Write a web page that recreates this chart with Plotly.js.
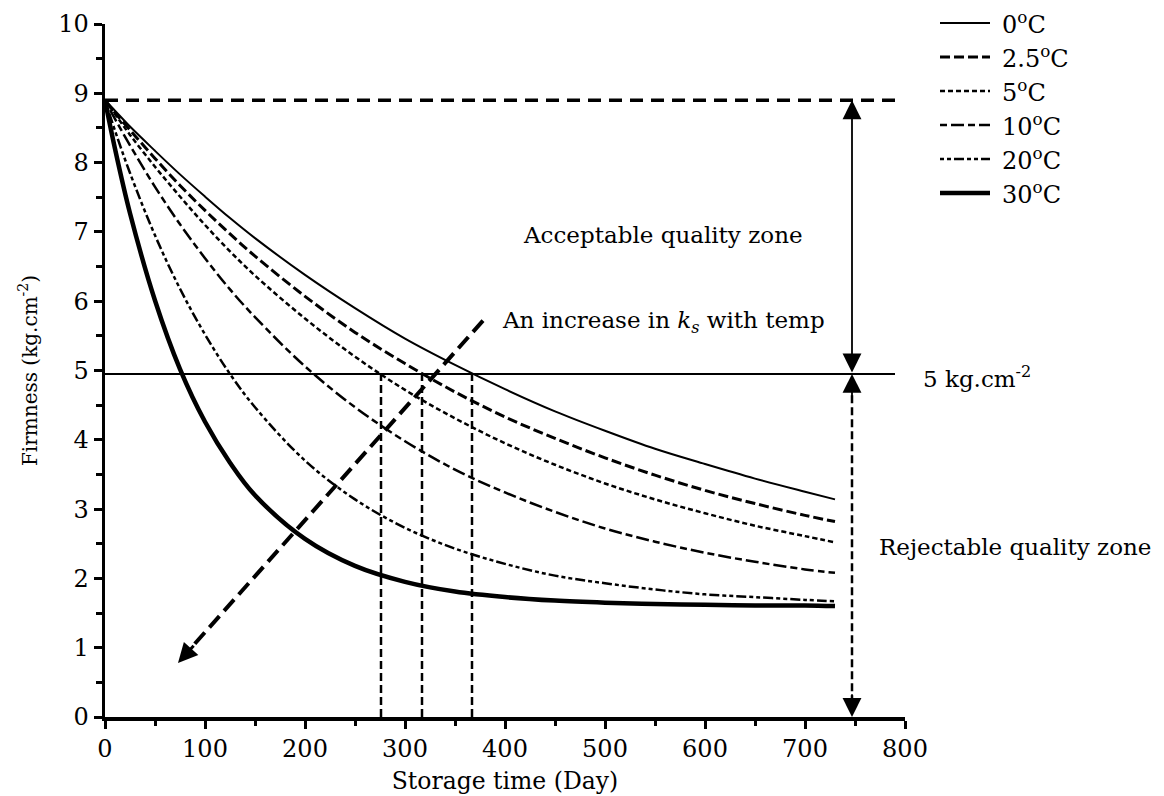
<!DOCTYPE html>
<html><head><meta charset="utf-8">
<script src="https://cdn.plot.ly/plotly-3.0.1.min.js"></script>
<style>html,body{margin:0;padding:0;background:#fff}</style>
</head><body>
<div id="chart" style="width:1164px;height:796px"></div>
<script>
const days = [0, 10, 25, 50, 75, 100, 125, 150, 200, 250, 300, 350, 400, 450, 500, 550, 600, 650, 700, 730];
// Firmness (kg.cm-2) per storage temperature
const firm0C   = [8.90, 8.75, 8.52, 8.17, 7.83, 7.51, 7.20, 6.91, 6.38, 5.90, 5.46, 5.08, 4.73, 4.41, 4.13, 3.87, 3.65, 3.44, 3.25, 3.14];
const firm2_5C = [8.90, 8.72, 8.47, 8.06, 7.67, 7.31, 6.97, 6.65, 6.07, 5.55, 5.10, 4.69, 4.33, 4.02, 3.74, 3.49, 3.27, 3.08, 2.91, 2.82];
const firm5C   = [8.90, 8.70, 8.40, 7.94, 7.51, 7.10, 6.72, 6.37, 5.75, 5.20, 4.72, 4.31, 3.95, 3.64, 3.37, 3.14, 2.94, 2.76, 2.61, 2.52];
const firm10C  = [8.90, 8.63, 8.25, 7.65, 7.11, 6.62, 6.17, 5.77, 5.06, 4.47, 3.98, 3.57, 3.24, 2.96, 2.72, 2.53, 2.37, 2.24, 2.13, 2.08];
const firm20C  = [8.90, 8.46, 7.85, 6.95, 6.18, 5.52, 4.95, 4.47, 3.70, 3.14, 2.73, 2.43, 2.21, 2.04, 1.93, 1.84, 1.77, 1.73, 1.69, 1.67];
const firm30C  = [8.90, 8.20, 7.27, 6.01, 5.02, 4.26, 3.67, 3.20, 2.57, 2.18, 1.95, 1.81, 1.73, 1.68, 1.65, 1.63, 1.62, 1.61, 1.61, 1.60];
const seriesNames = ['0<sup>o</sup>C', '2.5<sup>o</sup>C', '5<sup>o</sup>C', '10<sup>o</sup>C', '20<sup>o</sup>C', '30<sup>o</sup>C'];

// Reference levels and markers
const initialFirmness = 8.9;
const thresholdFirmness = 4.95;
const shelfLifeDays = [276, 317, 367];
const zoneArrowDay = 747;
const guideLineEndDay = 792;
const thresholdLineEndDay = 790;
const trendArrowStart = [378, 5.72];
const trendArrowTip = [73, 0.78];
const xRange = [0, 800];
const yRange = [0, 10];

const FONT = 'DejaVu Serif';
const W = 1164, H = 796;
const M = {l: 105, r: 259, t: 24, b: 79};
const plotW = W - M.l - M.r, plotH = H - M.t - M.b;
const pxToPaperX = px => (px - M.l) / plotW;
const pxToPaperY = py => (H - M.b - py) / plotH;

const allSeries = [firm0C, firm2_5C, firm5C, firm10C, firm20C, firm30C];
const styles = [
  {width: 2, dash: 'solid'},
  {width: 3, dash: '10px,4px'},
  {width: 2.5, dash: '5px,3px'},
  {width: 2.5, dash: '7px,4px,13px,4px'},
  {width: 2.5, dash: '4px,3px,4px,3px,10px,3px'},
  {width: 4.5, dash: 'solid'}
];

const traces = allSeries.map((ys, i) => ({
  type: 'scatter', mode: 'lines', x: days, y: ys, name: seriesNames[i], showlegend: false,
  line: {color: '#000', width: styles[i].width, dash: styles[i].dash, shape: 'spline', smoothing: 1}
}));

const shapes = [
  {type: 'line', xref: 'x', yref: 'y', x0: 0, x1: guideLineEndDay, y0: initialFirmness, y1: initialFirmness,
   line: {color: '#000', width: 3.5, dash: '13px,8px'}},
  {type: 'line', xref: 'x', yref: 'y', x0: 0, x1: thresholdLineEndDay, y0: thresholdFirmness, y1: thresholdFirmness,
   line: {color: '#000', width: 2}},
  {type: 'line', xref: 'x', yref: 'y', x0: zoneArrowDay, x1: zoneArrowDay, y0: 0.2, y1: thresholdFirmness - 0.2,
   line: {color: '#000', width: 2.5, dash: '8px,4px'}},
  {type: 'line', xref: 'x', yref: 'y', x0: trendArrowStart[0], y0: trendArrowStart[1], x1: trendArrowTip[0] + 12, y1: trendArrowTip[1] + 0.2,
   line: {color: '#000', width: 4, dash: '15px,7px'}}
].concat(shelfLifeDays.map(d => ({
  type: 'line', xref: 'x', yref: 'y', x0: d, x1: d, y0: 0, y1: thresholdFirmness,
  line: {color: '#000', width: 2.5, dash: '8px,4px'}
})));

const txt = (s, x, y, xanchor, size, xref, yref) => ({
  text: s, x: x, y: y, xref: xref || 'x', yref: yref || 'y', showarrow: false, xanchor: xanchor, yanchor: 'middle',
  font: {family: FONT, size: size, color: '#000'}
});
const head = (x, y, ax, ay, w, s) => ({
  text: '', x: x, y: y, ax: ax, ay: ay, xref: 'x', yref: 'y', axref: 'x', ayref: 'y',
  showarrow: true, arrowhead: 2, arrowwidth: w, arrowsize: s, arrowcolor: '#000'
});

const labelDay5kg = 816; // beyond the axis range, so placed in paper units
const annotations = [
  txt('Acceptable quality zone', 558, 6.96, 'center', 23),
  txt('An increase in <i>k<sub>s</sub></i> with temp', 395, 5.70, 'left', 23),
  txt('5 kg.cm<sup>-2</sup>', (labelDay5kg - xRange[0]) / (xRange[1] - xRange[0]), 4.90, 'left', 23, 'paper'),
  txt('Rejectable quality zone', 772, 2.45, 'left', 23),
  Object.assign(head(zoneArrowDay, initialFirmness, zoneArrowDay, thresholdFirmness, 1.8, 2.1), {arrowside: 'end+start', startarrowhead: 2, startarrowsize: 2.1}),
  head(zoneArrowDay, thresholdFirmness, zoneArrowDay, thresholdFirmness - 0.35, 1.8, 2.1),
  head(zoneArrowDay, 0, zoneArrowDay, 0.35, 1.8, 2.1),
  head(trendArrowTip[0], trendArrowTip[1], trendArrowTip[0] + 17, trendArrowTip[1] + 0.27, 3, 1.3)
];

// Legend (drawn as line samples + labels at the top right)
const legendSampleX = [940, 990], legendTextX = 1000, legendTopY = 23, legendStep = 34;
seriesNames.forEach((name, i) => {
  const py = legendTopY + i * legendStep;
  shapes.push({type: 'line', xref: 'paper', yref: 'paper',
    x0: pxToPaperX(legendSampleX[0]), x1: pxToPaperX(legendSampleX[1]), y0: pxToPaperY(py), y1: pxToPaperY(py),
    line: {color: '#000', width: styles[i].width, dash: styles[i].dash}});
  annotations.push(txt(name, pxToPaperX(legendTextX), pxToPaperY(py), 'left', 24, 'paper', 'paper'));
});

const axisCommon = {
  showline: true, linecolor: '#000', linewidth: 3.5, mirror: false,
  ticks: 'outside', ticklen: 8, tickwidth: 3, tickcolor: '#000',
  showgrid: false, zeroline: false,
  tickfont: {family: FONT, size: 24, color: '#000'}
};

const layout = {
  width: W, height: H,
  margin: M,
  paper_bgcolor: '#fff', plot_bgcolor: '#fff',
  showlegend: false,
  xaxis: Object.assign({}, axisCommon, {
    range: xRange, dtick: 100, tick0: 0,
    minor: {dtick: 50, ticks: 'outside', ticklen: 5, tickwidth: 3, tickcolor: '#000', showgrid: false},
    title: {text: 'Storage time (Day)', font: {family: FONT, size: 23.5, color: '#000'}, standoff: 11}
  }),
  yaxis: Object.assign({}, axisCommon, {
    range: yRange, dtick: 1, tick0: 0,
    minor: {dtick: 0.5, ticks: 'outside', ticklen: 6, tickwidth: 3, tickcolor: '#000', showgrid: false},
    title: {text: 'Firmness (kg.cm<sup>-2</sup>)', font: {family: FONT, size: 20, color: '#000'}, standoff: 16}
  }),
  shapes: shapes,
  annotations: annotations
};

Plotly.newPlot('chart', traces, layout, {staticPlot: true, displayModeBar: false});
</script>
</body></html>
